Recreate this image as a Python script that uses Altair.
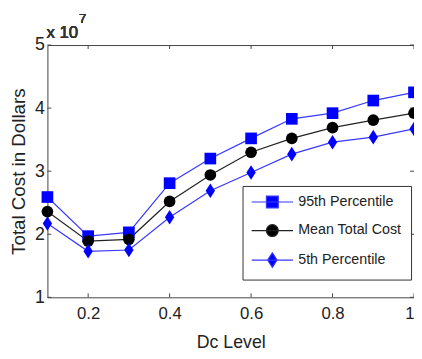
import altair as alt
import pandas as pd

dc_level = [0.1, 0.2, 0.3, 0.4, 0.5, 0.6, 0.7, 0.8, 0.9, 1.0]
p95 = [2.59, 1.97, 2.03, 2.81, 3.20, 3.52, 3.83, 3.92, 4.12, 4.25]
mean_cost = [2.36, 1.89, 1.92, 2.52, 2.94, 3.30, 3.52, 3.69, 3.81, 3.92]
p5 = [2.17, 1.73, 1.75, 2.27, 2.69, 2.98, 3.27, 3.46, 3.54, 3.67]
series_names = ["95th Percentile", "Mean Total Cost", "5th Percentile"]
x_ticks = [0.2, 0.4, 0.6, 0.8, 1.0]
y_ticks = [1, 2, 3, 4, 5]

rows = []
for name, vals in zip(series_names, [p95, mean_cost, p5]):
    for d, v in zip(dc_level, vals):
        rows.append({"dc": d, "cost": v, "series": name})
df = pd.DataFrame(rows)
xt_df = pd.DataFrame({"dc": x_ticks})
yt_df = pd.DataFrame({"cost": y_ticks})

FONT = "Liberation Sans, Arial"
W, H = 372, 256

x_enc = alt.X("dc:Q", scale=alt.Scale(domain=[0.1, 1.0], nice=False, zero=False),
              axis=alt.Axis(values=x_ticks, format="~g", title="Dc Level",
                            grid=False, domain=False, ticks=False,
                            labelFont=FONT, labelFontSize=17, labelColor="#222",
                            labelPadding=9, titleFont=FONT, titleFontSize=18,
                            titleFontWeight="normal", titleColor="#222", titlePadding=12))
y_enc = alt.Y("cost:Q", scale=alt.Scale(domain=[1, 5], nice=False, zero=False),
              axis=alt.Axis(values=y_ticks, format="d", title="Total Cost in Dollars",
                            grid=False, domain=False, ticks=False,
                            labelFont=FONT, labelFontSize=18, labelColor="#222",
                            labelPadding=3, titleFont=FONT, titleFontSize=19,
                            titleFontWeight="normal", titleColor="#222", titlePadding=6))

line_col = "#3838ff"
mark_col = "#0000ff"

lines = alt.Chart(df).mark_line(strokeWidth=1.2).encode(
    x=x_enc, y=y_enc, detail="series:N",
    stroke=alt.Stroke("series:N", scale=alt.Scale(domain=series_names, range=[line_col, "#222222", line_col]), legend=None),
)

sq = "M-1,-1L1,-1L1,1L-1,1Z"
di = "M0,-1.25L0.8,0L0,1.25L-0.8,0Z"
points = alt.Chart(df).mark_point(filled=True, opacity=1, size=140).encode(
    x=x_enc, y=y_enc,
    color=alt.Color("series:N", scale=alt.Scale(domain=series_names, range=[mark_col, "#000000", mark_col]), legend=None),
    shape=alt.Shape("series:N", scale=alt.Scale(domain=series_names, range=[sq, "circle", di]), legend=None),
)

leg_sq = "M-3.5,0L3.5,0M-1,-1L1,-1L1,1L-1,1Z"
leg_ci = "M-3.5,0L3.5,0M-1,0A1,1 0 1,0 1,0A1,1 0 1,0 -1,0Z"
leg_di = "M-3.5,0L3.5,0M0,-1.25L0.8,0L0,1.25L-0.8,0Z"
legend = alt.Legend(orient="none", legendX=198, legendY=143, title=None,
                    strokeColor="#333", fillColor="white", padding=9,
                    labelFont=FONT, labelFontSize=14.5, labelColor="#222",
                    symbolSize=144, symbolStrokeWidth=1.2, symbolOpacity=1,
                    symbolOffset=14, labelOffset=19, rowPadding=11)
leg_scale_fill = alt.Scale(domain=series_names, range=[mark_col, "#000000", mark_col])
leg_scale_stroke = alt.Scale(domain=series_names, range=[line_col, "#222222", line_col])
leg_layer = alt.Chart(df).mark_point(opacity=0, size=144).encode(
    x=x_enc, y=y_enc,
    fill=alt.Fill("series:N", scale=leg_scale_fill, legend=legend),
    stroke=alt.Stroke("series:N", scale=leg_scale_stroke, legend=legend),
    shape=alt.Shape("series:N", scale=alt.Scale(domain=series_names, range=[leg_sq, leg_ci, leg_di]), legend=legend),
)

tick_col = "#444"
xb = alt.Chart(xt_df).mark_rule(color=tick_col).encode(x=x_enc, y=alt.value(H), y2=alt.value(H - 4))
xtp = alt.Chart(xt_df).mark_rule(color=tick_col).encode(x=x_enc, y=alt.value(0), y2=alt.value(4))
yl = alt.Chart(yt_df).mark_rule(color=tick_col).encode(y=y_enc, x=alt.value(0), x2=alt.value(4))
yr = alt.Chart(yt_df).mark_rule(color=tick_col).encode(y=y_enc, x=alt.value(W), x2=alt.value(W - 4))

exp1 = alt.Chart(xt_df).mark_text(text="x 10", font=FONT, fontSize=17, fontWeight="normal", align="left", baseline="alphabetic", color="#333").encode(
    x=alt.value(-1), y=alt.value(-7))
exp2 = alt.Chart(xt_df).mark_text(text="7", font=FONT, fontSize=13, fontWeight="normal", align="left", baseline="alphabetic", color="#333").encode(
    x=alt.value(32), y=alt.value(-22))

chart = alt.layer(xb, xtp, yl, yr, lines, points, leg_layer, exp1, exp2).resolve_scale(
    color="independent", shape="independent", stroke="independent", fill="independent"
).properties(
    width=W, height=H, autosize="none",
    padding={"left": 40, "top": 35, "right": 0, "bottom": 60},
    background="white",
).configure_view(stroke="#444", strokeWidth=1)

chart.save("out.html", embed_options={"renderer": "svg", "actions": False})
